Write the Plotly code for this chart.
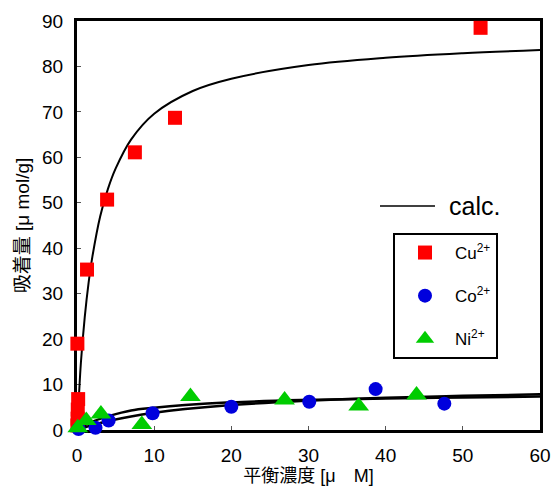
import plotly.graph_objects as go

# Measured adsorption data: equilibrium concentration [uM] vs adsorbed amount [umol/g]
cu_conc = [0.05, 0.08, 0.1, 0.15, 0.05, 1.3, 3.9, 7.5, 12.7, 52.3]
cu_ads = [1.0, 2.5, 4.5, 6.8, 19.0, 35.3, 50.7, 61.1, 68.7, 88.5]

co_conc = [0.2, 2.4, 4.1, 9.8, 20.0, 30.1, 38.7, 47.6]
co_ads = [0.2, 0.5, 2.1, 3.7, 5.1, 6.2, 9.0, 5.8]

ni_conc = [0.1, 1.2, 3.1, 8.4, 14.7, 26.9, 36.5, 44.0]
ni_ads = [0.5, 2.1, 3.5, 1.2, 7.35, 6.6, 5.3, 7.7]

# Calculated isotherm curves
calc_cu_conc = [0, 0.1, 0.25, 0.5, 1, 1.5, 2, 3, 4, 5, 7, 10, 15, 20, 30, 40, 50, 60]
calc_cu_ads = [0, 3.3, 7.5, 14.7, 24.8, 32.4, 38.2, 47.0, 53.0, 57.5, 63.9, 69.6,
               74.6, 77.3, 80.3, 81.9, 82.9, 83.6]

calc_a_conc = [0, 0.5, 1, 2, 4.2, 7, 10, 14, 20, 29, 40, 50, 60]
calc_a_ads = [0, 0.55, 1.04, 1.85, 3.11, 4.3, 4.9, 5.5, 6.09, 6.58, 6.93, 7.17, 7.35]

calc_b_conc = [0, 0.5, 1, 2, 4.2, 7, 10, 14, 20, 29, 40, 50, 60]
calc_b_ads = [0, 0.3, 0.57, 1.08, 2.03, 2.98, 3.78, 4.6, 5.49, 6.38, 7.09, 7.52, 7.85]

x_ticks = [0, 10, 20, 30, 40, 50, 60]
y_ticks = [0, 10, 20, 30, 40, 50, 60, 70, 80, 90]

LATIN = "Arial, 'Liberation Sans', sans-serif"
CJK = "Arial, 'Noto Sans CJK JP', sans-serif"

fig = go.Figure()

for xs, ys, w in [(calc_cu_conc, calc_cu_ads, 2), (calc_a_conc, calc_a_ads, 2.5),
                  (calc_b_conc, calc_b_ads, 2.5)]:
    fig.add_trace(go.Scatter(x=xs, y=ys, mode="lines", line=dict(color="black", width=w, shape="spline"),
                             showlegend=False, hoverinfo="skip", cliponaxis=False))

fig.add_trace(go.Scatter(x=cu_conc, y=cu_ads, mode="markers", name="Cu<sup>2+</sup>", legendgroup="cu",
                         marker=dict(symbol="square", size=14, color="#ff0000"), cliponaxis=False))
fig.add_trace(go.Scatter(x=co_conc, y=co_ads, mode="markers", name="Co<sup>2+</sup>", legendgroup="co",
                         marker=dict(symbol="circle", size=14, color="#0000dd"), cliponaxis=False))
fig.add_trace(go.Scatter(x=ni_conc, y=ni_ads, mode="markers", name="Ni<sup>2+</sup>", legendgroup="ni",
                         marker=dict(symbol="triangle-up", size=18, color="#00cc00"), cliponaxis=False))

axis_common = dict(showgrid=False, zeroline=False, showline=True, linecolor="black", linewidth=3,
                   mirror=True, ticks="inside", ticklen=4, tickcolor="#555555", tickwidth=1,
                   tickfont=dict(family=LATIN, size=19, color="black"), layer="below traces",
                   automargin=False)

fig.update_layout(
    width=555, height=491,
    margin=dict(l=77, r=15, t=21, b=61),
    paper_bgcolor="white", plot_bgcolor="white",
    xaxis=dict(range=[0, 60], tickvals=x_ticks, ticklabelstandoff=6,
               title=dict(text="平衡濃度 [μ\u3000M]", font=dict(family=CJK, size=18, color="black"), standoff=4),
               **axis_common),
    yaxis=dict(range=[0, 90], tickvals=y_ticks, ticklabelstandoff=7,
               title=dict(text="吸着量 [μ mol/g]", font=dict(family=CJK, size=19, color="black"), standoff=8),
               **axis_common),
    legend=dict(x=0.6825, y=0.4817, xanchor="left", yanchor="top", bordercolor="black", borderwidth=2,
                bgcolor="white", font=dict(family=LATIN, size=17, color="black"), tracegroupgap=18,
                itemwidth=50),
    showlegend=True,
)

# "calc." key for the model curves
fig.add_shape(type="line", xref="paper", yref="paper", x0=0.6544, x1=0.7732, y0=0.5477, y1=0.5477,
              line=dict(color="black", width=1.5))
fig.add_annotation(text="calc.", xref="paper", yref="paper", x=0.80, y=0.5477, xanchor="left",
                   yanchor="middle", showarrow=False, font=dict(family=LATIN, size=25, color="black"))

fig.write_html("out.html")
